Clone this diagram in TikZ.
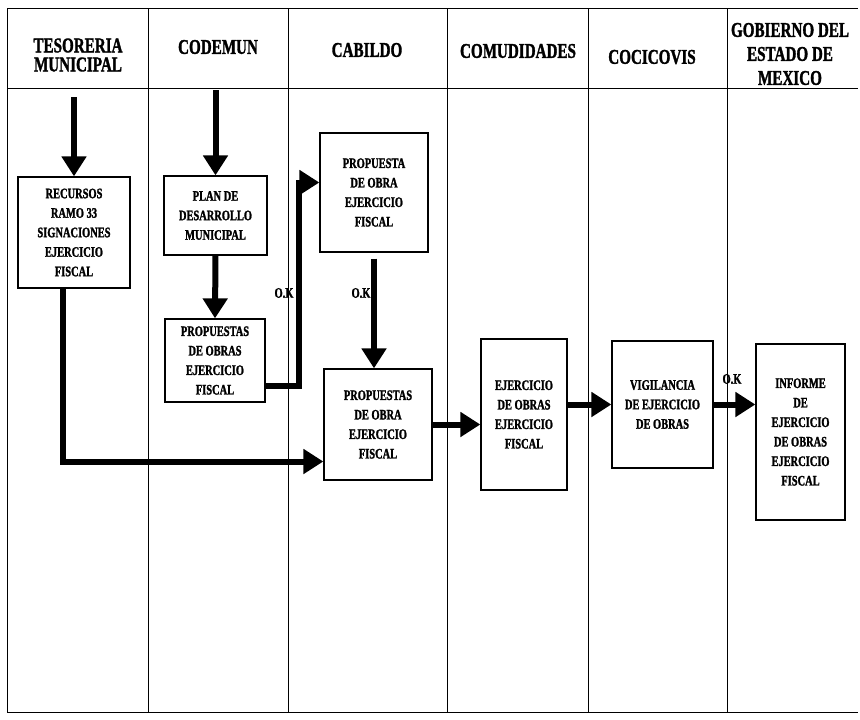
\documentclass[tikz,border=0pt]{standalone}
\usepackage{fontspec}
\setmainfont{Liberation Serif}[FakeStretch=0.72, BoldFont=Liberation Serif Bold, BoldFeatures={FakeStretch=0.72, FakeBold=1.5}]
\usepackage{tikz}
\usetikzlibrary{arrows.meta}
\newcommand\boxfont{\bfseries\fontsize{14.5}{19.5}\selectfont}
\newcommand\headfont{\bfseries\fontsize{21}{19}\selectfont}
\tikzset{
  >={Triangle[length=20pt,width=24pt]},
  box/.style={draw, line width=1.3pt, align=center, font=\boxfont, inner sep=2pt},
  flow/.style={->, line width=6pt},
  lane/.style={line width=0.8pt},
  head/.style={align=center, font=\headfont},
  oklabel/.style={font=\boxfont},
}
\begin{document}
\begin{tikzpicture}[x=1pt, y=-1pt]
  \useasboundingbox (0,0) rectangle (860,720);

  % lanes
  \draw[lane] (7,8) -- (858,8);
  \draw[lane] (7,88) -- (858,88);
  \draw[lane] (7,712) -- (858,712);
  \foreach \x in {7,148,288,447,588,727}
    \draw[lane] (\x,8) -- (\x,712);

  % headers
  \node[head] (tes) at (78,55) {TESORERIA\\MUNICIPAL};
  \node[head] (cod) at (218,47) {CODEMUN};
  \node[head] (cab) at (367,50) {CABILDO};
  \node[head] (com) at (518,51) {COMUDIDADES};
  \node[head] (coc) at (652,57) {COCICOVIS};
  \node[head] (gob) at (790,54) {GOBIERNO DEL\\[5pt]ESTADO DE\\[5pt]MEXICO};

  % boxes
  \node[box, minimum width=112pt, minimum height=111pt] (recursos) at (74,232.5)
    {RECURSOS\\RAMO 33\\SIGNACIONES\\EJERCICIO\\FISCAL};
  \node[box, minimum width=103pt, minimum height=79pt] (plan) at (215.5,215.5)
    {PLAN DE\\DESARROLLO\\MUNICIPAL};
  \node[box, minimum width=100pt, minimum height=83pt] (propobras) at (215,360.5)
    {PROPUESTAS\\DE OBRAS\\EJERCICIO\\FISCAL};
  \node[box, minimum width=108pt, minimum height=119pt] (propuesta) at (374,192.5)
    {PROPUESTA\\DE OBRA\\EJERCICIO\\FISCAL};
  \node[box, minimum width=108pt, minimum height=111pt] (propobra) at (378,424.5)
    {PROPUESTAS\\DE OBRA\\EJERCICIO\\FISCAL};
  \node[box, minimum width=86pt, minimum height=151pt] (ejercicio) at (524,414.5)
    {EJERCICIO\\DE OBRAS\\EJERCICIO\\FISCAL};
  \node[box, minimum width=101pt, minimum height=127pt] (vigilancia) at (662.5,404.5)
    {VIGILANCIA\\DE EJERCICIO\\DE OBRAS};
  \node[box, minimum width=89pt, minimum height=176pt] (informe) at (800.5,432)
    {INFORME\\DE\\EJERCICIO\\DE OBRAS\\EJERCICIO\\FISCAL};

  % labels
  \node[oklabel] (ok1) at (284,293) {O.K};
  \node[oklabel] (ok2) at (361,293) {O.K};
  \node[oklabel] (ok3) at (732,379) {O.K};

  % flows
  \coordinate (tin) at (74,97);
  \coordinate (cin) at (215.5,90);
  \draw[flow] (tin) -- (recursos.north);
  \draw[flow] (cin) -- (plan.north);
  \draw[flow] (plan.south) -- (propobras.north);
  \draw[flow] ([yshift=-25pt]propobras.east) -- ++(33,0) |- ([yshift=10pt]propuesta.west);
  \draw[flow] ([yshift=-6pt]propuesta.south) -- (propuesta.south |- propobra.north);
  \draw[flow] ([xshift=-11pt]recursos.south) |- ([yshift=-37pt]propobra.west);
  \draw[flow] (propobra.east) -- (ejercicio.west |- propobra.east);
  \draw[flow] (ejercicio.east |- vigilancia.west) -- (vigilancia.west);
  \draw[flow] (vigilancia.east) -- (informe.west |- vigilancia.east);
\end{tikzpicture}
\end{document}
